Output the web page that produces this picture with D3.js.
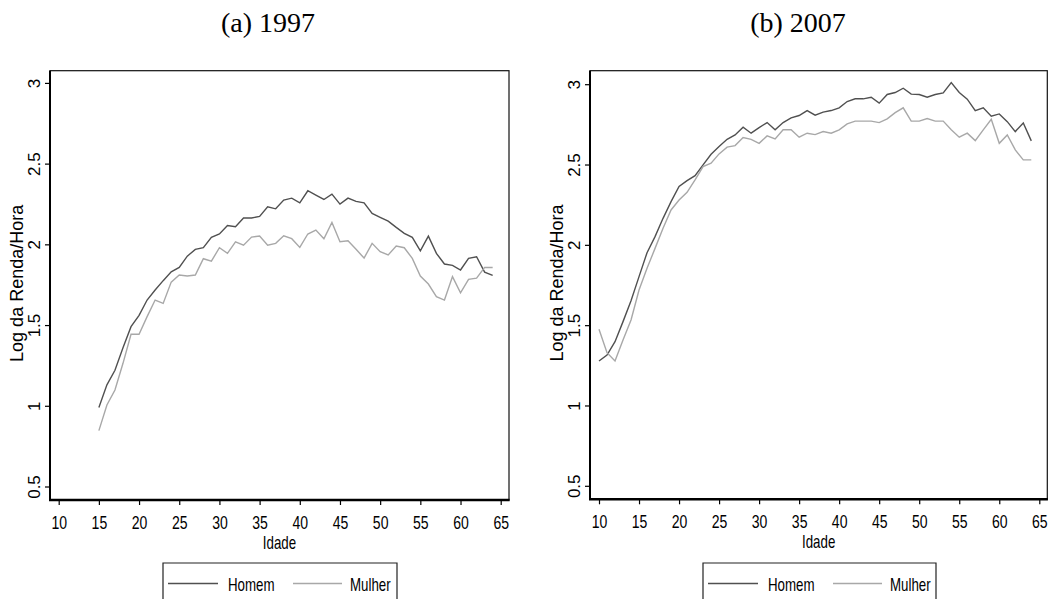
<!DOCTYPE html>
<html>
<head>
<meta charset="utf-8">
<script src="https://cdn.jsdelivr.net/npm/d3@7"></script>
<style>
  html, body { margin: 0; padding: 0; background: #fff; }
  svg { display: block; }
  text { font-family: "Liberation Sans", Arial, sans-serif; fill: #000; }
</style>
</head>
<body>
<svg id="chart" width="1063" height="599"></svg>
<script>
// Idade (age) for each survey year
const ages1997 = [15,16,17,18,19,20,21,22,23,24,25,26,27,28,29,30,31,32,33,34,35,36,37,38,39,40,
                  41,42,43,44,45,46,47,48,49,50,51,52,53,54,55,56,57,58,59,60,61,62,63,64];
const ages2007 = [10,11,12,13,14,15,16,17,18,19,20,21,22,23,24,25,26,27,28,29,30,31,32,33,34,35,36,37,38,39,40,
                  41,42,43,44,45,46,47,48,49,50,51,52,53,54,55,56,57,58,59,60,61,62,63,64];

// Log of hourly income, 1997
const homem1997 = [0.99,1.13,1.22,1.36,1.49,1.56,1.655,1.717,1.775,1.83,1.857,1.927,1.969,1.979,2.043,2.064,
                   2.117,2.109,2.163,2.163,2.173,2.233,2.22,2.274,2.286,2.257,2.332,2.305,2.278,2.311,2.249,
                   2.286,2.266,2.257,2.191,2.167,2.144,2.105,2.068,2.043,1.96,2.051,1.944,1.878,1.87,1.841,
                   1.913,1.923,1.828,1.808];
const mulher1997 = [0.846,1.005,1.098,1.263,1.443,1.443,1.552,1.655,1.634,1.766,1.81,1.804,1.81,1.911,1.896,
                    1.979,1.944,2.016,1.995,2.045,2.051,1.995,2.006,2.053,2.035,1.981,2.064,2.088,2.035,2.136,
                    2.016,2.022,1.969,1.915,2.006,1.954,1.934,1.989,1.979,1.913,1.804,1.754,1.676,1.655,1.8,
                    1.7,1.783,1.791,1.857,1.857];

// Log of hourly income, 2007
const homem2007 = [1.277,1.314,1.397,1.522,1.652,1.802,1.951,2.051,2.165,2.269,2.363,2.4,2.431,2.498,2.564,
                   2.612,2.657,2.684,2.732,2.695,2.73,2.761,2.716,2.761,2.79,2.805,2.836,2.807,2.826,2.836,
                   2.853,2.892,2.909,2.909,2.919,2.882,2.936,2.948,2.975,2.938,2.936,2.919,2.936,2.946,3.01,
                   2.948,2.907,2.836,2.853,2.801,2.815,2.767,2.705,2.759,2.647];
const mulher2007 = [1.474,1.329,1.277,1.407,1.532,1.719,1.854,1.978,2.103,2.217,2.279,2.327,2.404,2.487,2.508,
                    2.566,2.608,2.618,2.668,2.657,2.632,2.678,2.659,2.716,2.716,2.67,2.695,2.686,2.705,2.695,
                    2.716,2.753,2.77,2.77,2.77,2.761,2.784,2.823,2.853,2.77,2.77,2.786,2.77,2.77,2.716,
                    2.67,2.695,2.649,2.716,2.782,2.632,2.684,2.591,2.529,2.529];

const panelTitles = ["(a) 1997", "(b) 2007"];
const xTicks = [10,15,20,25,30,35,40,45,50,55,60,65];
const yTicks = [0.5,1,1.5,2,2.5,3];
const seriesNames = ["Homem", "Mulher"];
const yTitle = "Log da Renda/Hora";
const xTitle = "Idade";

const colors = { Homem: "#505050", Mulher: "#a8a8a8" };

const svg = d3.select("#chart");

const layout = [
  { frame: [50, 70.7, 509, 500], xr: [58.7, 500.7], yr: [486.5, 82.9], titleX: 268, legend: [163, 397],
    ages: ages1997, series: { Homem: homem1997, Mulher: mulher1997 }, title: panelTitles[0] },
  { frame: [590, 70.7, 1047.3, 499.3], xr: [599, 1039.3], yr: [485.8, 84.2], titleX: 798, legend: [703, 936],
    ages: ages2007, series: { Homem: homem2007, Mulher: mulher2007 }, title: panelTitles[1] }
];

layout.forEach(p => {
  const [fx0, fy0, fx1, fy1] = p.frame;
  const x = d3.scaleLinear().domain([10, 65]).range(p.xr);
  const y = d3.scaleLinear().domain([0.5, 3]).range(p.yr);
  const g = svg.append("g");

  // panel title
  g.append("text")
    .attr("x", p.titleX).attr("y", 32)
    .attr("text-anchor", "middle")
    .style("font-family", "'Liberation Serif', 'Times New Roman', serif")
    .style("font-size", "28px")
    .text(p.title);

  // plot region frame
  g.append("rect")
    .attr("x", fx0).attr("y", fy0)
    .attr("width", fx1 - fx0).attr("height", fy1 - fy0)
    .attr("fill", "none").attr("stroke", "#111").attr("stroke-width", 1.2);
  g.append("line").attr("x1", fx0).attr("x2", fx0).attr("y1", fy0).attr("y2", fy1)
    .attr("stroke", "#000").attr("stroke-width", 2);
  g.append("line").attr("x1", fx0 - 1).attr("x2", fx1 + 0.6).attr("y1", fy1).attr("y2", fy1)
    .attr("stroke", "#000").attr("stroke-width", 2.4);

  // y axis
  const ya = g.append("g").attr("transform", `translate(${fx0},0)`)
    .call(d3.axisLeft(y).tickValues(yTicks).tickSize(5).tickSizeOuter(0).tickFormat(d => String(d)));
  ya.select(".domain").remove();
  ya.selectAll(".tick line").attr("stroke", "#000").attr("stroke-width", 1.2);
  ya.selectAll(".tick text")
    .attr("x", null).attr("dy", null)
    .attr("transform", "translate(-10,0) rotate(-90)")
    .attr("text-anchor", "middle")
    .style("font-size", "17px")
    .style("font-family", "'Liberation Sans', Arial, sans-serif");

  // y axis title
  g.append("text")
    .attr("transform", `translate(${fx0 - 27},${(fy0 + fy1) / 2 - 2}) rotate(-90)`)
    .attr("text-anchor", "middle")
    .style("font-size", "18px")
    .text(yTitle);

  // x axis
  const xa = g.append("g").attr("transform", `translate(0,${fy1})`)
    .call(d3.axisBottom(x).tickValues(xTicks).tickSize(5).tickSizeOuter(0));
  xa.select(".domain").remove();
  xa.selectAll(".tick line").attr("stroke", "#000").attr("stroke-width", 1.2);
  xa.selectAll(".tick text")
    .attr("y", null).attr("dy", null)
    .attr("transform", "translate(0,29) scale(0.78,1)")
    .style("font-size", "18px")
    .style("font-family", "'Liberation Sans', Arial, sans-serif");

  g.append("text")
    .attr("transform", `translate(${(fx0 + fx1) / 2},${fy1 + 49}) scale(0.74,1)`)
    .attr("text-anchor", "middle")
    .style("font-size", "18px")
    .text(xTitle);

  // series lines
  const line = d3.line().x(d => x(d[0])).y(d => y(d[1]));
  seriesNames.forEach(name => {
    const pts = p.ages.map((a, i) => [a, p.series[name][i]]);
    g.append("path")
      .datum(pts)
      .attr("d", line)
      .attr("fill", "none")
      .attr("stroke", colors[name])
      .attr("stroke-width", 1.4)
      .attr("stroke-linejoin", "miter");
  });

  // legend
  const [lx0, lx1] = p.legend;
  const ly = 563;
  g.append("path")
    .attr("d", `M${lx0},600 V${ly} H${lx1} V600`)
    .attr("fill", "none").attr("stroke", "#222").attr("stroke-width", 1.2);
  const entries = [
    { name: seriesNames[0], l0: 5, l1: 55, tx: 65 },
    { name: seriesNames[1], l0: 130, l1: 179, tx: 187 }
  ];
  entries.forEach(e => {
    g.append("line")
      .attr("x1", lx0 + e.l0).attr("x2", lx0 + e.l1)
      .attr("y1", ly + 20.5).attr("y2", ly + 20.5)
      .attr("stroke", colors[e.name]).attr("stroke-width", 1.4);
    g.append("text")
      .attr("transform", `translate(${lx0 + e.tx},${ly + 28}) scale(0.74,1)`)
      .style("font-size", "18px")
      .text(e.name);
  });
});
</script>
</body>
</html>
